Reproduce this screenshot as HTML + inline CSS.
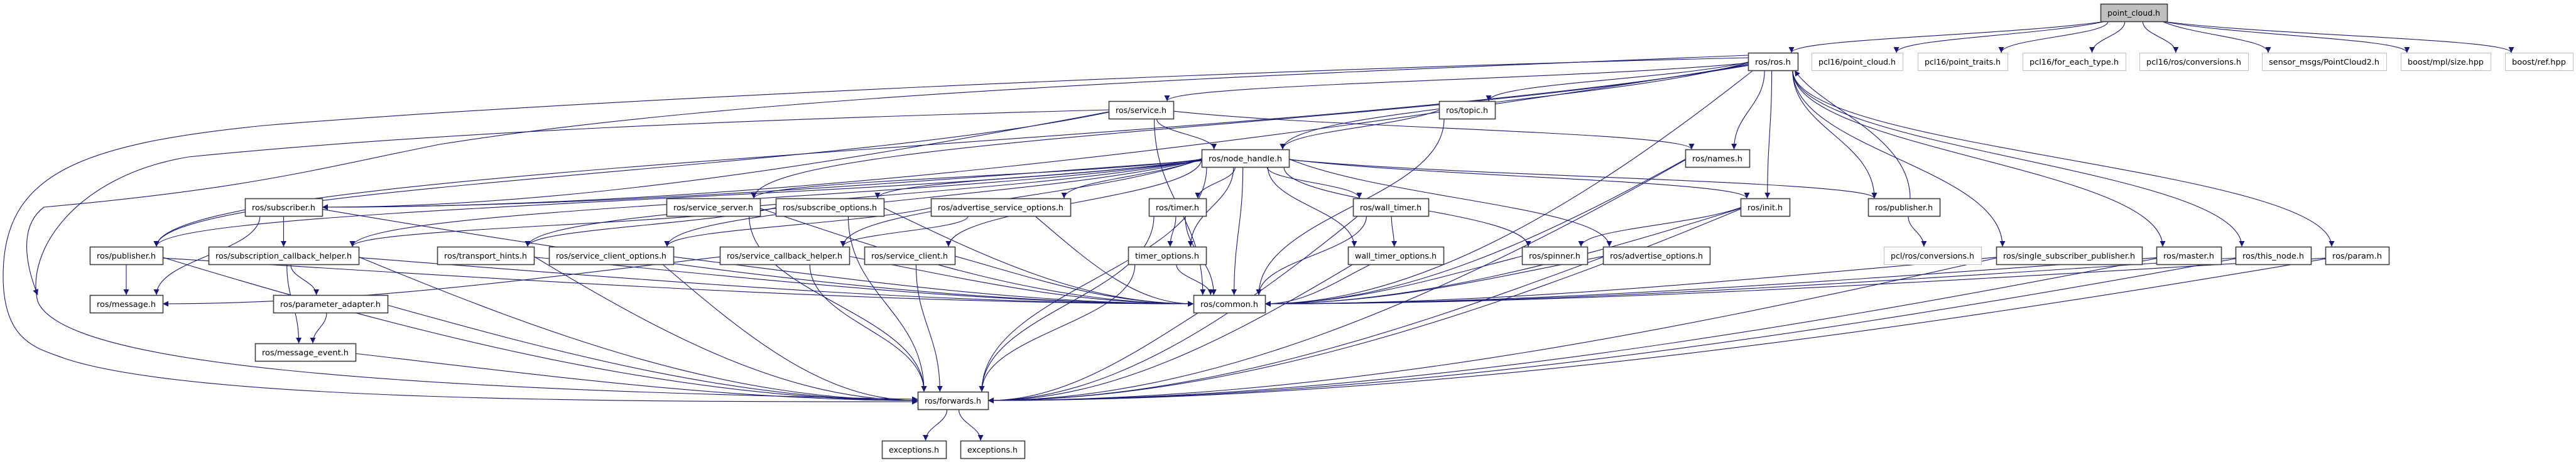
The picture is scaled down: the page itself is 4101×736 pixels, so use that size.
<!DOCTYPE html>
<html><head><meta charset="utf-8"><style>
html,body{margin:0;padding:0;background:#fff;}
svg{display:block;}
text{font-family:"DejaVu Sans","Liberation Sans",sans-serif;font-size:12px;fill:#000;}
</style></head><body>
<svg id="g" width="4101" height="736" viewBox="0 0 4101 736" xmlns="http://www.w3.org/2000/svg">
<defs><marker id="a" viewBox="0 0 10 10" refX="10" refY="5" markerWidth="10" markerHeight="9" markerUnits="userSpaceOnUse" orient="auto"><path d="M0,0 L10,5 L0,10 z" fill="#191970"/></marker></defs>
<g id="E" fill="none" stroke="#191970" stroke-width="1.1"></g>
<g id="N"></g>
</svg>
<script>
var N={
pc:[3344,3450,6,'point_cloud.h',2],
ros:[2783,2862,84,'ros/ros.h'],
p1:[2884,3029,84,'pcl16/point_cloud.h',1],
p2:[3053,3196,84,'pcl16/point_traits.h',1],
p3:[3220,3384,84,'pcl16/for_each_type.h',1],
p4:[3406,3579,84,'pcl16/ros/conversions.h',1],
p5:[3601,3799,84,'sensor_msgs/PointCloud2.h',1],
p6:[3822,3965,84,'boost/mpl/size.hpp',1],
p7:[3988,4096,84,'boost/ref.hpp',1],
service:[1765,1868,161,'ros/service.h'],
topic:[2291,2380,161,'ros/topic.h'],
nh:[1913,2052,238,'ros/node_handle.h'],
names:[2683,2785,238,'ros/names.h'],
subscriber:[390,513,316,'ros/subscriber.h'],
sserver:[1061,1210,316,'ros/service_server.h'],
subopts:[1235,1407,316,'ros/subscribe_options.h'],
advsrvopts:[1482,1704,316,'ros/advertise_service_options.h'],
timer:[1829,1920,316,'ros/timer.h'],
wtimer:[2154,2274,316,'ros/wall_timer.h'],
init:[2771,2849,316,'ros/init.h'],
pubR:[2974,3088,316,'ros/publisher.h'],
pubL:[143,259,393,'ros/publisher.h'],
sch:[332,571,393,'ros/subscription_callback_helper.h'],
thints:[696,850,393,'ros/transport_hints.h'],
sco:[874,1072,393,'ros/service_client_options.h'],
scbh:[1146,1352,393,'ros/service_callback_helper.h'],
sclient:[1376,1520,393,'ros/service_client.h'],
topts:[1796,1920,393,'timer_options.h'],
wtopts:[2146,2298,393,'wall_timer_options.h'],
spinner:[2423,2527,393,'ros/spinner.h'],
advopts:[2552,2722,393,'ros/advertise_options.h'],
pclconv:[2999,3154,393,'pcl/ros/conversions.h',1],
ssp:[3178,3410,393,'ros/single_subscriber_publisher.h'],
master:[3433,3536,393,'ros/master.h'],
thisnode:[3559,3679,393,'ros/this_node.h'],
param:[3702,3803,393,'ros/param.h'],
message:[143,259,470,'ros/message.h'],
padapt:[435,617,470,'ros/parameter_adapter.h'],
common:[1900,2014,470,'ros/common.h'],
mevent:[406,566,547,'ros/message_event.h'],
fwd:[1461,1573,624,'ros/forwards.h'],
exc1:[1404,1506,702,'exceptions.h'],
exc2:[1529,1631,702,'exceptions.h']
};
var H=28;
var SIDE={common:1,fwd:1,message:1,subscriber:1};
var E=[
'pc ros','pc p1','pc p2','pc p3','pc p4','pc p5','pc p6','pc p7',
'ros service','ros topic','ros nh','ros names','ros init','ros pubR','ros subscriber','ros sserver','ros pubL','ros common','ros ssp','ros master','ros thisnode','ros param','pubR ros',
'service nh','service common','service names','service subscriber','service pubL',
'topic nh','topic common',
'nh subscriber','nh sserver','nh subopts','nh advsrvopts','nh timer','nh topts','nh common','nh fwd','nh wtimer','nh wtopts','nh spinner','nh advopts','nh init','nh pubR','nh sclient','nh scbh','nh sco','nh thints','nh pubL','nh sch',
'subscriber sch','subscriber common','subscriber message',
'sserver fwd','sserver common','subopts thints','subopts common','subopts fwd','subopts sch',
'advsrvopts scbh','advsrvopts common','advsrvopts sco',
'timer topts','timer common','timer fwd','wtimer wtopts','wtimer common','wtimer fwd',
'init spinner','init common','init fwd','pubR pclconv','names common','names fwd',
'pubL message','pubL common','pubL fwd','sch padapt','sch mevent','sch fwd','sch common',
'thints fwd','thints common','sco fwd','sco common','scbh message','scbh fwd','scbh common',
'sclient fwd','sclient common','topts common','topts fwd','wtopts common','wtopts fwd',
'spinner common','advopts common','advopts fwd','ssp common','ssp fwd','master common','master fwd',
'thisnode common','thisnode fwd','param common','param fwd','padapt mevent','padapt fwd','mevent fwd',
'common fwd','fwd exc1','fwd exc2'];
var ns='http://www.w3.org/2000/svg',Eg=document.getElementById('E'),Ng=document.getElementById('N');
function cx(n){return (n[0]+n[1])/2}
E.forEach(function(e){
 var p=e.split(' '),s=N[p[0]],t=N[p[1]],d;
 var sx=cx(s),tx=cx(t);
 if(t[2]>s[2]){
  var y1=s[2]+H,y2=t[2],dy=y2-y1;
  var x1=Math.max(s[0]+8,Math.min(s[1]-8,sx+(tx-sx)*0.15));
  var far=(sx<t[0]?t[0]-sx:(sx>t[1]?sx-t[1]:0));
  var gap=(s[1]<t[0]?t[0]-s[1]:(s[0]>t[1]?s[0]-t[1]:0));
  if(gap>3*dy && p[0]!='pc'){ x1=(tx<sx)?s[0]:s[1]; y1=s[2]+H*0.5+Math.min(8,gap/400); dy=y2-y1; }
  if(SIDE[p[1]] && far>2.2*dy){
   var ex=sx<t[0]?t[0]:t[1],ey=t[2]+H/2;
   d='M'+x1+','+y1+' C'+(x1+(ex-x1)*0.35)+','+(y1+dy*0.6)+' '+(ex+(sx<t[0]?-far*0.3:far*0.3))+','+ey+' '+ex+','+ey;
  } else {
   var x2=Math.max(t[0]+10,Math.min(t[1]-10,tx+(sx-tx)*0.3));
   d='M'+x1+','+y1+' C'+(x1+(x2-x1)*(gap>3*dy?0.3:0))+','+(y1+dy*0.45)+' '+x2+','+(y2-dy*0.45)+' '+x2+','+y2;
  }
 } else if(t[2]<s[2]){
  var y1=s[2],y2=t[2]+H,x1=sx+10,x2=t[1]-5;
  d='M'+x1+','+y1+' C'+(x1)+','+(y1-100)+' '+(x2+40)+','+(y2+60)+' '+x2+','+y2;
 } else {
  d='M'+s[0]+','+(s[2]+H/2)+' L'+t[1]+','+(t[2]+H/2);
 }
 var pa=document.createElementNS(ns,'path');pa.setAttribute('d',d);pa.setAttribute('marker-end','url(#a)');Eg.appendChild(pa);
});
[['M2783,92 C2000,110 900,160 420,200 C120,230 5,280 5,440 C5,545 60,555 100,570 C300,640 1000,640 1461,640'],
 ['M1765,175 C1200,190 700,210 300,250 C120,280 40,400 60,480 C100,580 600,620 1461,636'],
 ['M2783,88 C2000,120 1200,150 700,230 C500,270 400,300 70,330 C30,360 40,420 60,470']
].forEach(function(a){var pa=document.createElementNS(ns,'path');pa.setAttribute('d',a[0]);pa.setAttribute('marker-end','url(#a)');Eg.appendChild(pa);});
for(var k in N){var n=N[k];
 var r=document.createElementNS(ns,'rect');r.setAttribute('x',n[0]+0.5);r.setAttribute('y',n[2]+0.5);r.setAttribute('width',n[1]-n[0]);r.setAttribute('height',H);
 r.setAttribute('fill',n[4]==2?'#bfbfbf':'#fff');r.setAttribute('stroke',n[4]==1?'#bfbfbf':'#404040');r.setAttribute('stroke-width',n[4]==1?1:1.6);Ng.appendChild(r);
 var t=document.createElementNS(ns,'text');t.setAttribute('x',cx(n));t.setAttribute('y',n[2]+19);t.setAttribute('text-anchor','middle');
 t.setAttribute('textLength',n[1]-n[0]-22);t.setAttribute('lengthAdjust','spacingAndGlyphs');t.textContent=n[3];Ng.appendChild(t);}
</script>
</body></html>
